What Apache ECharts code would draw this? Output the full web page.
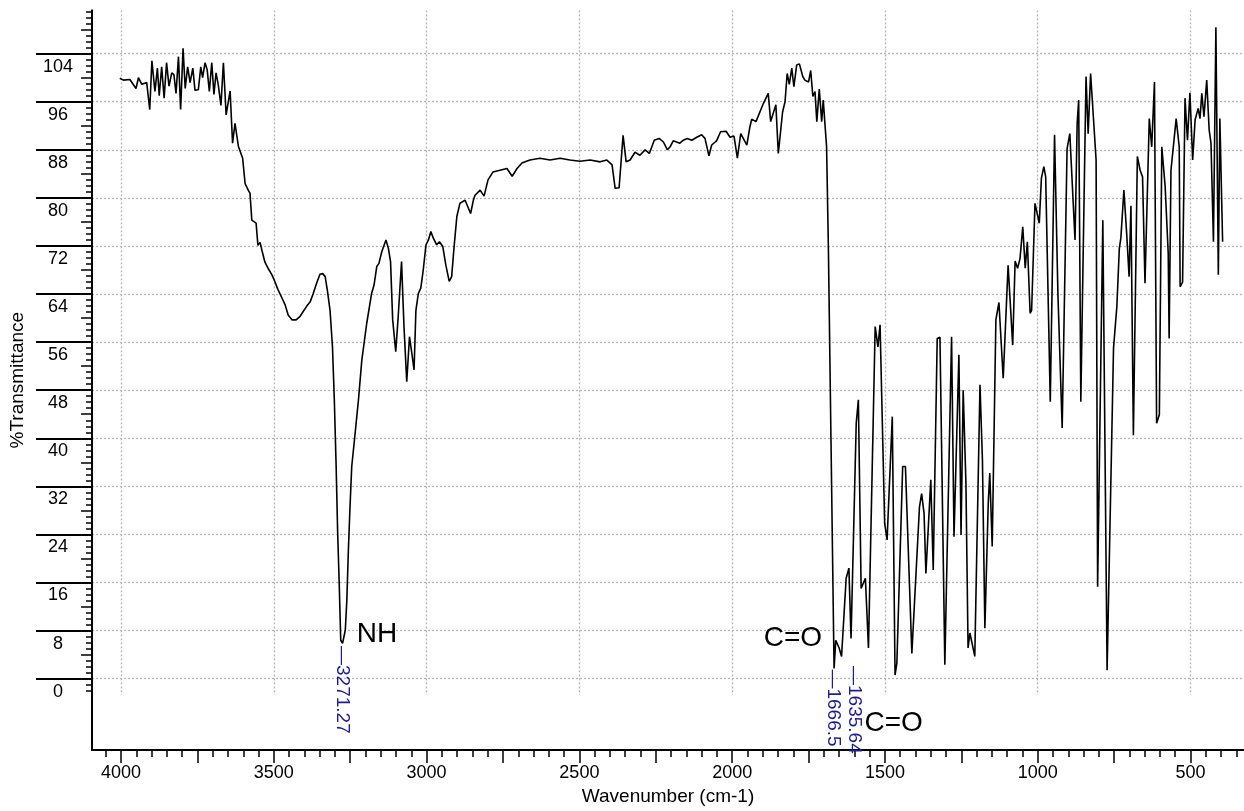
<!DOCTYPE html>
<html>
<head>
<meta charset="utf-8">
<script src="https://cdn.jsdelivr.net/npm/echarts@6/dist/echarts.min.js"></script>
<style>
html, body { margin: 0; padding: 0; background: #fff; }
#ir_chart { width: 1244px; height: 811px; }
</style>
</head>
<body>
<div id="ir_chart"></div>
<script>
// IR spectrum (cm-1 vs %T)
var wavenumber = [
	4004, 3992, 3971, 3951, 3943, 3932, 3916, 3906, 3899, 3889, 3881, 3875, 3867, 3859, 3851, 3843,
	3834, 3827, 3820, 3812, 3805, 3797, 3790, 3782, 3774, 3765, 3758, 3747, 3739, 3733, 3725, 3718,
	3711, 3703, 3696, 3689, 3682, 3673, 3665, 3656, 3651, 3643, 3635, 3627, 3616, 3602, 3594, 3583,
	3578, 3572, 3568, 3558, 3552, 3545, 3539, 3529, 3519, 3506, 3496, 3486, 3473, 3463, 3453, 3440,
	3427, 3414, 3392, 3381, 3371, 3360, 3349, 3340, 3332, 3325, 3316, 3308, 3302, 3296, 3291, 3286,
	3281, 3275, 3271.27, 3266, 3261, 3256, 3251, 3245, 3234, 3223, 3212, 3196, 3180, 3172, 3163, 3156,
	3147, 3133, 3125, 3118, 3111, 3101, 3093, 3082, 3074, 3065, 3056, 3049, 3041, 3035, 3027, 3019,
	3011, 3002, 2994, 2986, 2978, 2967, 2958, 2947, 2937, 2926, 2918, 2910, 2901, 2891, 2874, 2856,
	2847, 2842, 2825, 2812, 2799, 2783, 2760, 2737, 2720, 2704, 2688, 2662, 2629, 2596, 2563, 2531,
	2498, 2465, 2432, 2410, 2393, 2383, 2370, 2357, 2347, 2334, 2318, 2302, 2285, 2271, 2255, 2239,
	2225, 2212, 2203, 2193, 2182, 2171, 2160, 2147, 2132, 2116, 2100, 2089, 2076, 2067, 2051, 2038,
	2020, 2007, 1994, 1983, 1972, 1952, 1942, 1936, 1922, 1898, 1882, 1874, 1857, 1849, 1843, 1835,
	1827, 1820, 1813, 1805, 1798, 1789, 1780, 1769, 1762, 1756, 1750, 1743, 1736, 1729, 1723, 1715,
	1707, 1702, 1696, 1691, 1685, 1666.5, 1661, 1650, 1642, 1635.64, 1627, 1618, 1611, 1594, 1587, 1578,
	1564, 1554, 1532, 1523, 1516, 1501, 1493, 1476, 1467, 1461, 1442, 1433, 1412, 1387, 1380, 1372,
	1366, 1350, 1342, 1329, 1320, 1304, 1282, 1274, 1258, 1251, 1244, 1235, 1228, 1222, 1206, 1189,
	1181, 1173, 1162, 1157, 1149, 1137, 1127, 1113, 1097, 1082, 1074, 1066, 1058, 1049, 1041, 1034,
	1025, 1020, 1009, 995, 988, 980, 974, 959, 945, 934, 920, 904, 895, 878, 871, 866,
	859, 842, 835, 827, 809, 804, 787, 773, 752, 741, 733, 728, 718, 709, 701, 695,
	687, 674, 665, 657, 649, 635, 627, 618, 611, 602, 594, 583, 573, 570, 564, 547,
	537, 534, 526, 518, 510, 502, 493, 485, 475, 469, 463, 456, 447, 439, 433, 425,
	417, 409, 404, 395
];
var transmittance = [
	99.9, 99.6, 99.7, 98.2, 100, 98.9, 99.2, 94.7, 102.8, 97.7, 101.6, 97, 101.8, 96.6, 102.5, 98.6,
	100.8, 100.5, 97.4, 103.5, 94.7, 104.9, 98.2, 101.8, 99.2, 101.6, 97.9, 98, 101.8, 100, 102.5, 101.3,
	97.7, 102.5, 97.2, 100.8, 98.9, 95.4, 102.5, 93.8, 94.1, 97.8, 89.1, 92.4, 88.6, 86.6, 82.4, 81.2,
	80.8, 76.3, 76, 75.8, 72.1, 72.6, 71.3, 69.3, 68.3, 67.2, 66, 64.7, 63.3, 62.2, 60.5, 59.7,
	59.7, 60.3, 62, 62.7, 64.1, 65.8, 67.3, 67.4, 66.9, 64.7, 61.3, 55.2, 46.4, 35.3, 24.2, 15.9,
	6.4, 5.9, 5.6, 8.1, 13.1, 21.4, 28.1, 35.3, 40.8, 46.4, 53, 59.1, 64.1, 65.5, 68.6, 69.1,
	71, 73, 71.6, 69.4, 59.7, 54.4, 60.2, 69.4, 58.6, 49.4, 56.9, 54.4, 51.4, 61.3, 64.1, 65,
	68, 72.2, 73, 74.4, 73.3, 72.2, 72.7, 71.9, 68.8, 66.1, 66.9, 71.9, 76.9, 79.1, 79.6, 77.4,
	79.6, 80.4, 81.3, 80.3, 83, 84.3, 84.6, 84.9, 83.6, 84.9, 85.8, 86.3, 86.6, 86.3, 86.6, 86.3,
	86.1, 86.3, 86, 86.3, 85.5, 81.6, 81.7, 90.4, 86, 86.3, 87.6, 87.1, 88, 87.4, 89.6, 89.9,
	89.3, 88, 88.5, 89.5, 89.3, 89.1, 89.6, 89.9, 89.6, 90.1, 90.5, 89.9, 87, 88.8, 89.5, 91,
	91.1, 90.1, 90.3, 86.6, 90.7, 88.8, 91.8, 93.1, 92.7, 95.7, 97.4, 92.7, 95.5, 87.4, 87.1, 94.3,
	96, 100.7, 98.9, 101.6, 98.5, 102.1, 102.3, 100.2, 99.6, 99.9, 99.3, 101.2, 96.9, 97.7, 92.7, 98.1,
	92.7, 96.3, 96.2, 88.5, 71.3, 1.7, 6.4, 5.1, 3.7, 3.6, 16.7, 18.4, 6.7, 42.5, 46.4, 15,
	16.7, 5.1, 58.6, 55.2, 58.9, 25.9, 23.1, 43.6, 0.6, 2.6, 35.3, 35.3, 4.2, 28.6, 30.8, 27.5,
	17.5, 33.1, 18.1, 56.6, 56.8, 2.3, 56.9, 23.6, 53.9, 23.9, 48, 32.5, 5.1, 7.6, 3.7, 48.9,
	36.4, 8.4, 29.2, 34.2, 22, 59.7, 62.6, 50, 68.8, 55.5, 69.5, 68.3, 69.9, 75.2, 68.3, 72.7,
	60.8, 61.3, 79.1, 75.8, 83.3, 85.2, 83.5, 46.1, 90.5, 64.1, 41.7, 88.2, 90.7, 73, 92.4, 96.3,
	46.1, 100.2, 90.7, 100.7, 86.3, 15.3, 76.3, 1.4, 55, 62, 71.6, 73.3, 81.3, 74.1, 66.9, 78.7,
	40.5, 86.9, 84.6, 83.5, 65.8, 93.2, 88.5, 99.3, 42.5, 43.9, 88.5, 81.9, 70.8, 56.6, 84.6, 93.2,
	88.5, 65.2, 66, 96.6, 89.6, 97.5, 86.3, 93, 94.9, 93.2, 97.4, 93.5, 99.6, 91.3, 89.1, 72.7,
	108.4, 67.2, 93.2, 72.7
];

// marked peaks
var peakPos = [3271.27, 1666.5, 1635.64];
var peakVal = [5.6, 1.7, 3.6];
var peakText = ['3271.27', '1666.5', '1635.64'];

// axis ticks
var yMajor = [0, 8, 16, 24, 32, 40, 48, 56, 64, 72, 80, 88, 96, 104];
var xLabels = [500, 1000, 1500, 2000, 2500, 3000, 3500, 4000];

var yMid = yMajor.map(function (v) { return v + 4; });
var yMinor = [];
for (var i = -2; i <= 111; i++) yMinor.push(i);
var xMajor = [];
for (var j = 500; j <= 4000; j += 250) xMajor.push(j);
var xMinor = [];
for (var k = 350; k <= 4050; k += 50) xMinor.push(k);

var spectrum = wavenumber.map(function (w, n) { return [w, transmittance[n]]; });

var fnt = 'Liberation Sans, Arial, sans-serif';
var blue = '#1c1c96';
var dots = { show: true, lineStyle: { color: '#b4b4b4', width: 1.3, type: [2, 2] } };
var hidden = { show: false };
var noLine = { show: false, onZero: false };

// rotated labels: offset is [along text (down), across text (-x)]
var peakMarks = peakPos.map(function (p, n) {
	return {
		coord: [p, peakVal[n]],
		label: {
			formatter: '\u2014' + peakText[n],
			rotate: -90, align: 'left', verticalAlign: 'middle',
			color: blue, fontSize: 19, fontFamily: fnt,
			offset: n === 2 ? [9, -11] : [1, 1]
		}
	};
});
peakMarks.push({
	coord: [peakPos[0], peakVal[0]],
	label: { formatter: 'NH', align: 'left', verticalAlign: 'bottom', offset: [13, 3], fontSize: 28, color: '#000', fontFamily: fnt }
});
peakMarks.push({
	coord: [peakPos[1], peakVal[1]],
	label: { formatter: 'C=O', align: 'right', verticalAlign: 'middle', offset: [-12, -30], fontSize: 28, color: '#000', fontFamily: fnt }
});
peakMarks.push({
	coord: [peakPos[2], peakVal[2]],
	label: { formatter: 'C=O', align: 'left', verticalAlign: 'middle', offset: [21, 66], fontSize: 28, color: '#000', fontFamily: fnt }
});

var myChart = echarts.init(document.getElementById('ir_chart'));
var option = {
	animation: false,
	backgroundColor: '#fff',
	grid: [
		{ left: 92, right: 0, top: 10.4, bottom: 116.1 },   // plot area with the grid
		{ left: 92, right: 0, top: 10.4, bottom: 57 }       // outer frame with the x axis
	],
	xAxis: [
		{
			gridIndex: 0, type: 'value', position: 'bottom', min: 325, max: 4095, inverse: true,
			axisLine: noLine, axisLabel: hidden,
			axisTick: { show: false, customValues: xLabels },
			splitLine: dots
		},
		{
			gridIndex: 1, type: 'value', position: 'bottom', min: 325, max: 4095, inverse: true,
			axisLine: { show: true, onZero: false, lineStyle: { color: '#000', width: 2 } },
			axisTick: { show: true, customValues: xMajor, length: 13, lineStyle: { color: '#000', width: 1.5 } },
			axisLabel: {
				show: true, customValues: xLabels, margin: 14, fontSize: 18, color: '#000', fontFamily: fnt,
				formatter: function (v) { return String(v); }
			},
			splitLine: hidden,
			name: 'Wavenumber (cm-1)', nameLocation: 'middle', nameGap: 37,
			nameTextStyle: { fontSize: 19, color: '#000', fontFamily: fnt }
		},
		{
			gridIndex: 1, type: 'value', position: 'bottom', min: 325, max: 4095, inverse: true,
			axisLine: noLine, axisLabel: hidden, splitLine: hidden,
			axisTick: { show: true, customValues: xMinor, length: 7, lineStyle: { color: '#000', width: 1.5 } }
		}
	],
	yAxis: [
		{
			gridIndex: 0, type: 'value', position: 'left', min: -2.7, max: 111.2,
			axisLine: { show: true, onZero: false, lineStyle: { color: '#000', width: 2 } },
			axisTick: { show: true, customValues: yMajor, length: 56, lineStyle: { color: '#000', width: 2 } },
			axisLabel: {
				show: true, customValues: yMajor, margin: 34, align: 'center', verticalAlign: 'top',
				padding: [4, 0, 0, 0], fontSize: 18, color: '#000', fontFamily: fnt
			},
			splitLine: dots
		},
		{
			gridIndex: 0, type: 'value', position: 'left', min: -2.7, max: 111.2,
			axisLine: noLine, axisLabel: hidden, splitLine: hidden,
			axisTick: { show: true, customValues: yMid, length: 11, lineStyle: { color: '#000', width: 1.5 } }
		},
		{
			gridIndex: 0, type: 'value', position: 'left', min: -2.7, max: 111.2,
			axisLine: noLine, axisLabel: hidden, splitLine: hidden,
			axisTick: { show: true, customValues: yMinor, length: 6, lineStyle: { color: '#000', width: 1.5 } }
		},
		{
			gridIndex: 1, type: 'value', position: 'left', min: -12.53, max: 111.2,
			axisLine: { show: true, onZero: false, lineStyle: { color: '#000', width: 2 } },
			axisTick: hidden, axisLabel: hidden, splitLine: hidden,
			name: '%Transmittance', nameLocation: 'middle', nameGap: 65,
			nameTextStyle: { fontSize: 19, color: '#000', fontFamily: fnt }
		}
	],
	series: [{
		type: 'line',
		xAxisIndex: 0,
		yAxisIndex: 0,
		data: spectrum,
		showSymbol: false,
		symbol: 'none',
		lineStyle: { color: '#000', width: 1.6 },
		markPoint: {
			symbol: 'circle',
			symbolSize: 0,
			label: { show: true, position: 'inside' },
			data: peakMarks
		}
	}]
};
myChart.setOption(option);
</script>
</body>
</html>
